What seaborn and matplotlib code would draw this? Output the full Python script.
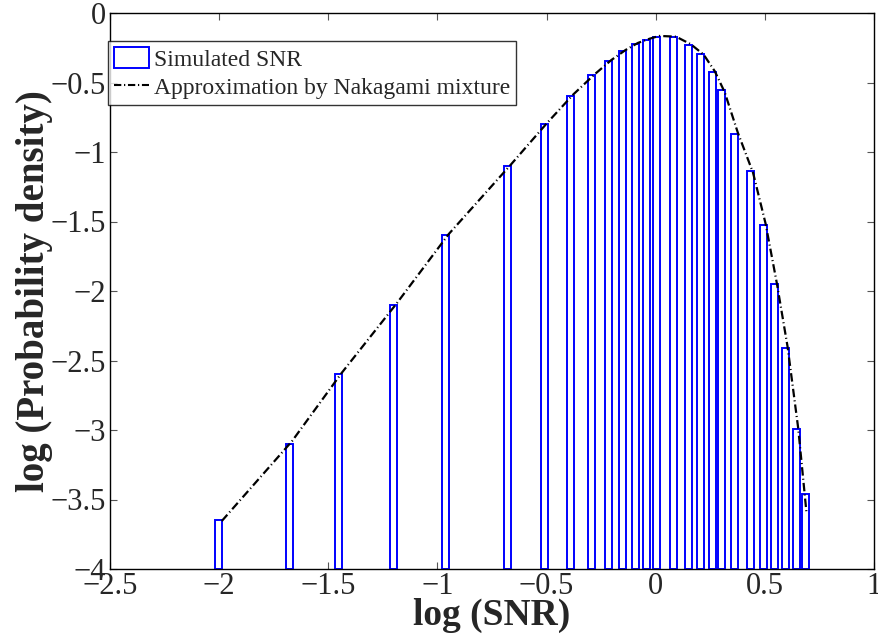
import numpy as np
import pandas as pd
import matplotlib
matplotlib.use("Agg")
import matplotlib.pyplot as plt
import seaborn as sns
from matplotlib.patches import Patch
from matplotlib.lines import Line2D

# ---- data ----
bar_x = [-2.002, -1.679, -1.452, -1.200, -0.961, -0.679, -0.510, -0.390, -0.292,
         -0.216, -0.150, -0.094, -0.041, 0.003, 0.080, 0.148, 0.207, 0.258,
         0.303, 0.363, 0.433, 0.493, 0.546, 0.596, 0.646, 0.686]
bar_top = [-3.647, -3.098, -2.600, -2.100, -1.600, -1.100, -0.798, -0.595, -0.446,
           -0.345, -0.273, -0.223, -0.194, -0.170, -0.175, -0.230, -0.297, -0.425,
           -0.555, -0.868, -1.137, -1.527, -1.951, -2.410, -2.990, -3.462]

line_x = [-1.988, -1.666, -1.439, -1.187, -0.948, -0.666, -0.497, -0.377, -0.279,
          -0.203, -0.137, -0.081, -0.028, 0.016, 0.093, 0.161, 0.220, 0.271,
          0.316, 0.376, 0.446, 0.503, 0.555, 0.604, 0.653, 0.691]
line_y = [-3.655, -3.080, -2.590, -2.090, -1.590, -1.095, -0.790, -0.585, -0.440,
          -0.338, -0.265, -0.215, -0.185, -0.165, -0.170, -0.225, -0.300, -0.420,
          -0.570, -0.860, -1.150, -1.513, -1.945, -2.400, -2.990, -3.600]

xticks = [-2.5, -2.0, -1.5, -1.0, -0.5, 0.0, 0.5, 1.0]
xtick_labels = ["\u22122.5", "\u22122", "\u22121.5", "\u22121", "\u22120.5", "0", "0.5", "1"]
yticks = [0.0, -0.5, -1.0, -1.5, -2.0, -2.5, -3.0, -3.5, -4.0]
ytick_labels = ["0", "\u22120.5", "\u22121", "\u22121.5", "\u22122", "\u22122.5", "\u22123", "\u22123.5", "\u22124"]

series_names = ["Simulated SNR", "Approximation by Nakagami mixture"]
x_label = "log (SNR)"
y_label = "log (Probability density)"
baseline = -4.0

# ---- style ----
sns.set_style("white")
plt.rcParams["font.family"] = ["Liberation Serif", "DejaVu Serif"]

fig = plt.figure(figsize=(8.79, 6.40), dpi=100)
ax = fig.add_axes([110 / 879, 1 - 569 / 640, (874 - 110) / 879, (569 - 13) / 640])

blue = "#0000ff"
heights = [t - baseline for t in bar_top]
ax.bar(bar_x, heights, bottom=baseline, width=0.032, facecolor="white",
       edgecolor=blue, linewidth=1.4, zorder=2)

df = pd.DataFrame({"x": line_x, "y": line_y})
sns.lineplot(data=df, x="x", y="y", sort=False, color="black", linewidth=1.6,
             ax=ax, zorder=3)
ln = ax.lines[-1]
ln.set_dashes([3.8, 1.4, 0.5, 1.4])

ax.set_xlim(-2.5, 1.0)
ax.set_ylim(-4.0, 0.0)
ax.set_xticks(xticks)
ax.set_xticklabels(xtick_labels)
ax.set_yticks(yticks)
ax.set_yticklabels(ytick_labels)
ax.tick_params(axis="both", direction="in", length=5, width=0.8, color="#555555",
               labelsize=22, top=True, right=True, bottom=True, left=True)
ax.tick_params(axis="x", pad=2)
ax.tick_params(axis="y", pad=3)
for s in ax.spines.values():
    s.set_visible(True)
    s.set_color("black")
    s.set_linewidth(1.0)

ax.set_xlabel(x_label, fontsize=27, fontweight="bold", labelpad=-2)
ax.set_ylabel(y_label, fontsize=28, fontweight="bold", labelpad=-1.5)

handles = [Patch(facecolor="white", edgecolor=blue, linewidth=1.4),
           Line2D([0], [0], color="black", linewidth=1.5, dashes=[3.5, 1.3, 0.6, 1.3])]
leg = ax.legend(handles, series_names, loc="upper left", bbox_to_anchor=(-0.003, 0.949),
                fontsize=17, frameon=True, fancybox=False, borderpad=0.25,
                handlelength=1.5, handleheight=1.0, handletextpad=0.2,
                labelspacing=0.2, borderaxespad=0)
leg.get_frame().set_edgecolor("black")
leg.get_frame().set_linewidth(1.0)

fig.savefig("out.png", dpi=100)
